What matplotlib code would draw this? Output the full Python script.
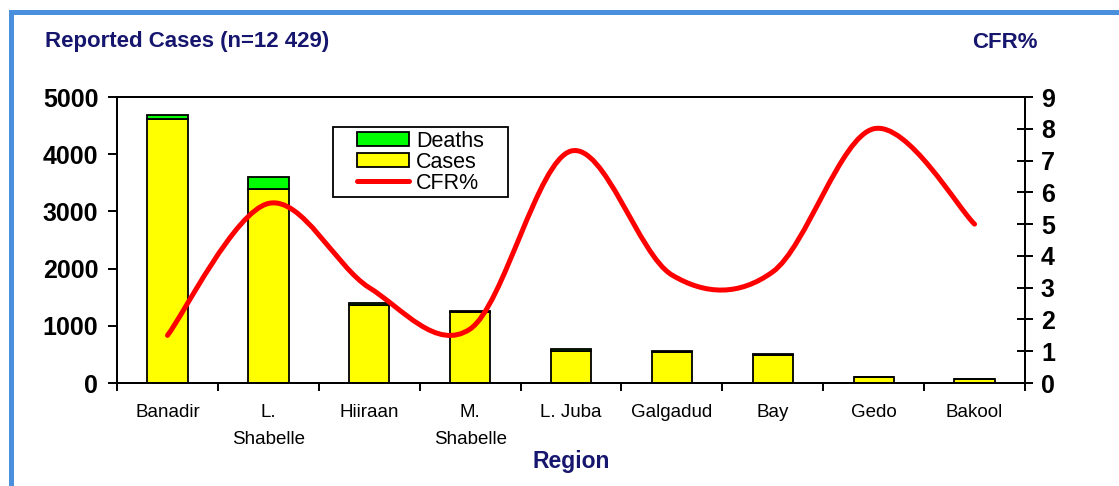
import matplotlib
matplotlib.use('Agg')
import matplotlib.pyplot as plt
from matplotlib.patches import Rectangle, PathPatch, Patch
from matplotlib.path import Path
from matplotlib.lines import Line2D
import numpy as np

plt.rcParams['font.family'] = ['Liberation Sans', 'DejaVu Sans']

regions = ['Banadir', 'L.\nShabelle', 'Hiiraan', 'M.\nShabelle', 'L. Juba',
           'Galgadud', 'Bay', 'Gedo', 'Bakool']
cases = [4620, 3390, 1360, 1245, 555, 546, 495, 100, 66]
deaths = [70, 205, 41, 21, 40, 19, 20, 8, 3]
cfr = [1.5, 5.65, 3.0, 1.7, 7.3, 3.4, 3.5, 8.0, 5.0]

NAVY = '#16166e'
YELLOW = '#ffff00'
GREEN = '#00ff00'

fig = plt.figure(figsize=(11.19, 4.86), dpi=100)

# blue frame around the whole chart
fig.patches.append(Rectangle((0.0094, -0.1), 1.2, 1.0743, transform=fig.transFigure,
                             fill=False, edgecolor='#4a8fdb', linewidth=3.6))

ax = fig.add_axes([0.1046, 0.2119, 0.8114, 0.5885])
x = np.arange(len(regions)) + 0.5
ax.bar(x, cases, width=0.4, color=YELLOW, edgecolor='black', linewidth=1.3)
ax.bar(x, deaths, width=0.4, bottom=cases, color=GREEN, edgecolor='black', linewidth=1.3)

ax.set_xlim(0, 9)
ax.set_ylim(0, 5000)
ax.set_yticks(range(0, 5001, 1000))
ax.set_xticks(np.arange(10))
ax.set_xticklabels([])
ax.set_xticks(x, minor=True)
ax.set_xticklabels(regions, minor=True, fontsize=13.5, linespacing=1.75)
ax.tick_params(axis='x', which='minor', length=0, pad=15)
ax.tick_params(axis='x', which='major', length=6, width=1.4, direction='out')
ax.tick_params(axis='y', length=6.5, width=1.4, labelsize=18, pad=7)
for lbl in ax.get_yticklabels():
    lbl.set_fontweight('bold')
for s in ax.spines.values():
    s.set_linewidth(1.4)

# CFR% on the secondary axis, drawn as a smoothed (Bezier) line
ax2 = ax.twinx()
ax2.set_ylim(0, 9)
ax2.set_yticks(range(0, 10))
ax2.tick_params(axis='y', direction='inout', length=11, width=1.4, labelsize=18, pad=6)
for lbl in ax2.get_yticklabels():
    lbl.set_fontweight('bold')
for s in ax2.spines.values():
    s.set_linewidth(1.4)

pts = np.column_stack([x, cfr])
verts = [pts[0]]
codes = [Path.MOVETO]
n = len(pts)
for i in range(n - 1):
    p_prev = pts[i - 1] if i > 0 else pts[i]
    p_next2 = pts[i + 2] if i + 2 < n else pts[i + 1]
    c1 = pts[i] + (pts[i + 1] - p_prev) / 6
    c2 = pts[i + 1] - (p_next2 - pts[i]) / 6
    verts += [c1, c2, pts[i + 1]]
    codes += [Path.CURVE4] * 3
cfr_path = PathPatch(Path(verts, codes), fill=False, edgecolor='#ff0000',
                     linewidth=3.6, capstyle='round', joinstyle='round')
ax2.add_patch(cfr_path)

handles = [Patch(facecolor=GREEN, edgecolor='black', linewidth=1.3),
           Patch(facecolor=YELLOW, edgecolor='black', linewidth=1.3),
           Line2D([], [], color='#ff0000', linewidth=3.6, solid_capstyle='round')]
box = (0.2379, 0.6503, 0.1927, 0.2448)
ax2.add_patch(Rectangle(box[:2], box[2], box[3], transform=ax2.transAxes,
                        facecolor='white', edgecolor='black', linewidth=1.3, zorder=4))
leg = ax2.legend(handles, ['Deaths', 'Cases', 'CFR%'], loc='center', bbox_to_anchor=box,
                 bbox_transform=ax2.transAxes, frameon=False, fontsize=15.5,
                 handlelength=2.4, handleheight=0.6, labelspacing=0.0,
                 handletextpad=0.35, borderpad=0.2, borderaxespad=0)
leg.set_zorder(5)

fig.text(45 / 1119, 1 - 42 / 486, 'Reported Cases (n=12 429)', color=NAVY,
         fontsize=16, fontweight='bold', ha='left', va='center')
fig.text(972 / 1119, 1 - 42 / 486, 'CFR%', color=NAVY,
         fontsize=16, fontweight='bold', ha='left', va='center')
fig.text(571 / 1119, 1 - 461 / 486, 'Region', color=NAVY,
         fontsize=16.5, fontweight='bold', ha='center', va='center')

fig.savefig('out.png', dpi=100)
